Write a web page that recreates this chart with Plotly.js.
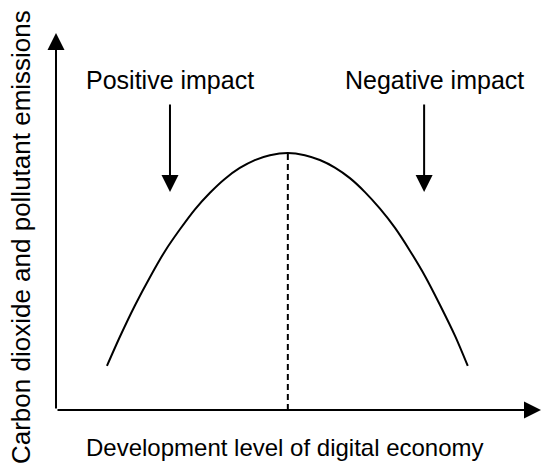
<!DOCTYPE html>
<html>
<head>
<meta charset="utf-8">
<script src="https://cdn.plot.ly/plotly-3.0.1.min.js"></script>
<style>html,body{margin:0;padding:0;background:#fff;}#chart{width:550px;height:474px;}</style>
</head>
<body>
<div id="chart"></div>
<script>
// Inverted-U curve: development level of digital economy (x) vs emissions (y), arbitrary units 0-100
const devLevel = [10.5, 13.2, 16.3, 19.4, 22.5, 25.6, 28.7, 31.8, 34.8, 37.9, 41.0, 44.1, 47.8,
                  51.3, 54.4, 57.5, 60.6, 63.7, 66.8, 69.9, 73.0, 76.1, 79.2, 82.3, 84.9];
const emissions = [11.7, 19.5, 27.8, 35.3, 42.2, 48.0, 53.3, 57.7, 61.3, 64.2, 66.3, 67.6, 68.2,
                   67.6, 66.3, 64.3, 61.5, 57.8, 53.4, 48.3, 42.2, 35.5, 27.8, 19.6, 11.7];
const peakX = [47.8, 47.8];
const peakY = [0, 68.2];
const impactLabels = ["Positive impact", "Negative impact"];
const impactX = [23.5, 75.9];
const labelX = [23.5, 78.0];
const arrowTop = 81.4;
const arrowBottom = 57.8;
const labelY = 87.5;
const xTitle = "Development level of digital economy";
const yTitle = "Carbon dioxide and pollutant emissions";

const font = "Liberation Sans, Arial, sans-serif";

const traces = [
  {x: devLevel, y: emissions, mode: "lines", line: {color: "#000", width: 2, shape: "spline", smoothing: 0.8}, hoverinfo: "skip"},
  {x: peakX, y: peakY, mode: "lines", line: {color: "#000", width: 2, dash: "6px,4px"}, hoverinfo: "skip"}
];

const annotations = [];
// axes with arrows
annotations.push({x: 100, y: 0, ax: 0, ay: 0, xref: "x", yref: "y", axref: "x", ayref: "y",
  showarrow: true, arrowhead: 2, arrowsize: 1.7, arrowwidth: 2, arrowcolor: "#000", text: "", standoff: 0});
annotations.push({x: 0, y: 100, ax: 0, ay: 0, xref: "x", yref: "y", axref: "x", ayref: "y",
  showarrow: true, arrowhead: 2, arrowsize: 1.7, arrowwidth: 2, arrowcolor: "#000", text: "", standoff: 0});
impactLabels.forEach((lbl, i) => {
  annotations.push({x: impactX[i], y: arrowBottom, ax: impactX[i], ay: arrowTop, xref: "x", yref: "y", axref: "x", ayref: "y",
    showarrow: true, arrowhead: 2, arrowsize: 1.7, arrowwidth: 2, arrowcolor: "#000", text: "", standoff: 0});
  annotations.push({x: labelX[i], y: labelY, xref: "x", yref: "y", text: lbl, showarrow: false,
    font: {family: font, size: 25, color: "#000"}, xanchor: "center", yanchor: "middle"});
});
annotations.push({x: 0.472, y: -0.10, xref: "paper", yref: "paper", text: xTitle, showarrow: false,
  font: {family: font, size: 24, color: "#000"}, xanchor: "center", yanchor: "middle"});
annotations.push({x: -0.071, y: 0.4576, xref: "paper", yref: "paper", text: yTitle, showarrow: false, textangle: -90,
  font: {family: font, size: 26, color: "#000"}, xanchor: "center", yanchor: "middle"});

const layout = {
  width: 550, height: 474,
  margin: {l: 56, r: 9, t: 33, b: 64},
  paper_bgcolor: "#fff", plot_bgcolor: "#fff",
  showlegend: false,
  xaxis: {range: [0, 100], visible: false, fixedrange: true},
  yaxis: {range: [0, 100], visible: false, fixedrange: true},
  annotations: annotations
};

Plotly.newPlot("chart", traces, layout, {staticPlot: true, displayModeBar: false});
</script>
</body>
</html>
